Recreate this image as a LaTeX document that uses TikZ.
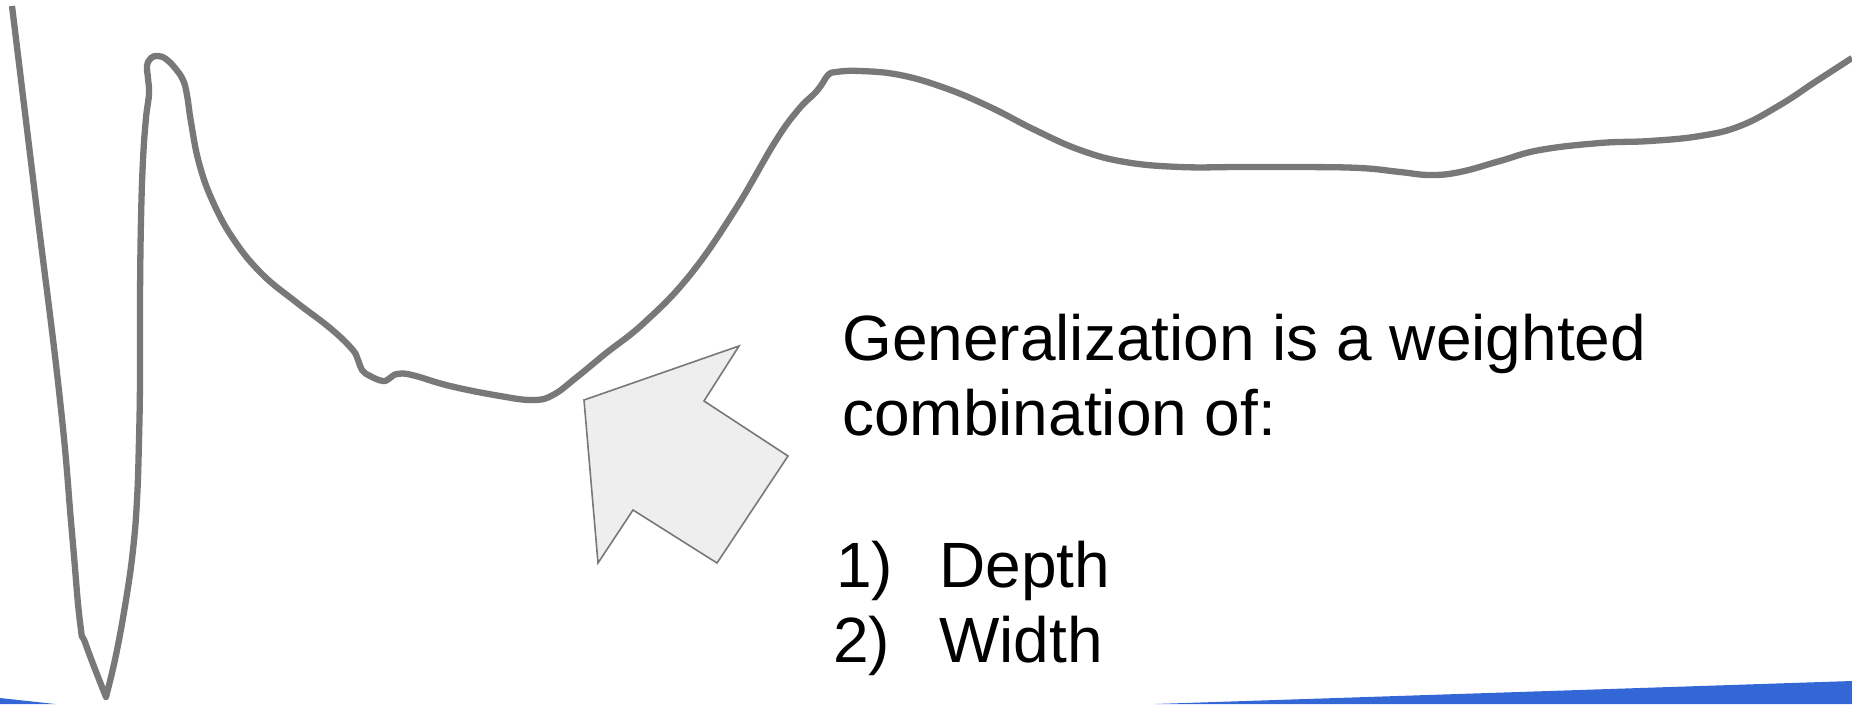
\documentclass[tikz,border=0pt]{standalone}
\usepackage{fontspec}
\setmainfont{Liberation Sans}
\definecolor{curvegray}{HTML}{787878}
\definecolor{arrowfill}{HTML}{EEEEEE}
\definecolor{slideblue}{HTML}{3367D6}
\tikzset{
  losscurve/.style={draw=curvegray, line width=6.3pt, line join=round},
  pointer/.style={draw=curvegray, fill=arrowfill, line width=1.6pt, line join=miter},
  bodytext/.style={anchor=base west, inner sep=0pt, font=\fontsize{64}{76}\selectfont},
  band/.style={fill=slideblue, draw=none}
}
\begin{document}
\begin{tikzpicture}[x=1pt, y=-1pt]
\useasboundingbox (0,0) rectangle (1852,704);
\fill[white] (0,0) rectangle (1852,704);

% blue slide bands along the bottom edge
\path[band] (0,698) -- (55,704) -- (0,704) -- cycle;
\path[band] (1155,704) -- (1852,681) -- (1852,704) -- cycle;

% loss landscape curve
\draw[losscurve]
  plot[smooth, tension=0.8] coordinates {(12,6) (36,203) (60,400) (72,533) (80,622) (86,645) (106,697)}
  -- plot[smooth, tension=0.7] coordinates {
    (106,697) (116,655) (126,600) (133,550) (137,500) (139,440) (140,380)
    (140,300) (141,220) (143,160) (146,118) (149,94) (148,78) (147,66)
    (151,58) (158,56) (166,59) (175,68) (183,80) (187,95) (191,122)
    (199,163) (213,202) (234,240) (262,274) (296,302) (330,328) (352,349)
    (358,360) (362,370) (370,376) (383,381) (390,378) (397,374) (412,375)
    (450,386) (500,396) (533,400) (553,395) (577,377) (605,354) (645,322)
    (690,275) (735,210) (775,142) (798,110) (815,93) (822,84) (828,75)
    (836,72) (860,71) (900,75) (945,88) (990,107) (1035,130) (1080,150)
    (1125,162) (1180,167) (1240,167) (1300,167) (1360,168) (1400,172)
    (1430,175) (1460,172) (1500,161) (1540,150) (1600,143) (1650,141)
    (1700,136) (1740,126) (1780,105) (1815,82) (1852,58)};

% block arrow pointing at the flat minimum
\draw[pointer] (584,400) -- (739,346) -- (704,401) -- (788,456)
  -- (717,563) -- (633,510) -- (598,563) -- cycle;

% explanation text
\node[bodytext] (line1) at (842,360) {Generalization is a weighted};
\node[bodytext] (line2) at (842,435) {combination of:};
\node[bodytext] (num1) at (836,587) {1)};
\node[bodytext] (item1) at (939,587) {Depth};
\node[bodytext] (num2) at (833,662) {2)};
\node[bodytext] (item2) at (939,662) {Width};
\end{tikzpicture}
\end{document}
